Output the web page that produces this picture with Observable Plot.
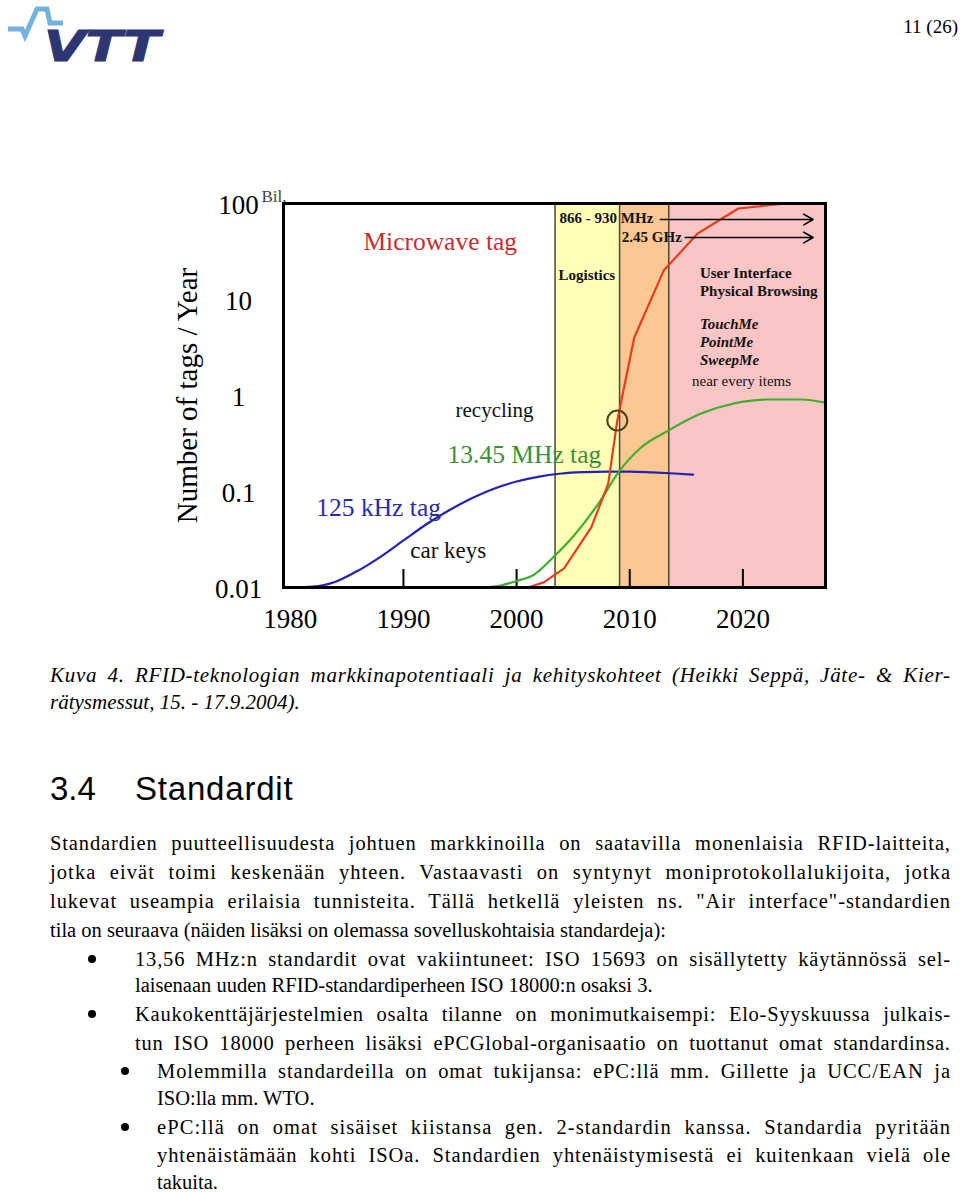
<!DOCTYPE html>
<html><head><meta charset="utf-8">
<script src="https://cdn.jsdelivr.net/npm/d3@7"></script>
<script src="https://cdn.jsdelivr.net/npm/@observablehq/plot@0.6"></script>
<style>
html,body{margin:0;padding:0;background:#fff}
body{width:960px;height:1192px;position:relative;overflow:hidden;font-family:"Liberation Serif","Times New Roman",serif;color:#000}
#logo{position:absolute;left:0;top:0}
#pagenum{position:absolute;right:2px;top:16px;font-size:19px}
#chart{position:absolute;left:170px;top:185px}
.ln{position:absolute;line-height:28px;height:28px;white-space:nowrap}
.cap{font-style:italic;font-size:21px;left:50px;width:900px}
.body{font-size:20.5px}
.p0{left:50px;width:900px}
.p1{left:135px;width:815px}
.p2{left:157px;width:793px}
.dot{position:absolute;width:8px;height:8px;border-radius:50%;background:#000}
#h{position:absolute;left:50px;top:770px;font-family:"Liberation Sans",Arial,sans-serif;font-size:33px;line-height:38px}
#h span{position:absolute;white-space:nowrap}
</style></head>
<body>
<svg id="logo" width="170" height="70">
  <polyline points="8,29 22,29 25,36 37,9 47,9 50,23 63,23" fill="none" stroke="#74b2de" stroke-width="5" stroke-linejoin="miter"/>
  <text x="44" y="61" font-family="DejaVu Sans" font-weight="bold" font-style="italic" font-size="42" fill="#2d3573" textLength="116" lengthAdjust="spacingAndGlyphs" stroke="#2d3573" stroke-width="1">VTT</text>
</svg>
<div id="pagenum">11 (26)</div>
<div id="chart"></div>

<div class="ln cap j" style="top:661px">Kuva 4. RFID-teknologian markkinapotentiaali ja kehityskohteet (Heikki Seppä, Jäte- &amp; Kier-</div>
<div class="ln cap" style="top:688px">rätysmessut, 15. - 17.9.2004).</div>

<div id="h"><span style="left:0">3.4</span><span style="left:85px;letter-spacing:0.8px">Standardit</span></div>

<div class="ln body p0 j" style="top:829px">Standardien puutteellisuudesta johtuen markkinoilla on saatavilla monenlaisia RFID-laitteita,</div>
<div class="ln body p0 j" style="top:858px">jotka eivät toimi keskenään yhteen. Vastaavasti on syntynyt moniprotokollalukijoita, jotka</div>
<div class="ln body p0 j" style="top:887px">lukevat useampia erilaisia tunnisteita. Tällä hetkellä yleisten ns. "Air interface"-standardien</div>
<div class="ln body p0" style="top:916px">tila on seuraava (näiden lisäksi on olemassa sovelluskohtaisia standardeja):</div>

<div class="dot" style="left:88px;top:955px"></div>
<div class="ln body p1 j" style="top:945px">13,56 MHz:n standardit ovat vakiintuneet: ISO 15693 on sisällytetty käytännössä sel-</div>
<div class="ln body p1" style="top:971px">laisenaan uuden RFID-standardiperheen ISO 18000:n osaksi 3.</div>

<div class="dot" style="left:88px;top:1010px"></div>
<div class="ln body p1 j" style="top:1000px">Kaukokenttäjärjestelmien osalta tilanne on monimutkaisempi: Elo-Syyskuussa julkais-</div>
<div class="ln body p1 j" style="top:1029px">tun ISO 18000 perheen lisäksi ePCGlobal-organisaatio on tuottanut omat standardinsa.</div>

<div class="dot" style="left:121px;top:1067px"></div>
<div class="ln body p2 j" style="top:1057px">Molemmilla standardeilla on omat tukijansa: ePC:llä mm. Gillette ja UCC/EAN ja</div>
<div class="ln body p2" style="top:1084px">ISO:lla mm. WTO.</div>

<div class="dot" style="left:121px;top:1123px"></div>
<div class="ln body p2 j" style="top:1113px">ePC:llä on omat sisäiset kiistansa gen. 2-standardin kanssa. Standardia pyritään</div>
<div class="ln body p2 j" style="top:1141px">yhtenäistämään kohti ISOa. Standardien yhtenäistymisestä ei kuitenkaan vielä ole</div>
<div class="ln body p2" style="top:1168px">takuita.</div>

<script>
// ---- data ----
const xTicks = [1980, 1990, 2000, 2010, 2020];
const insideTicks = [1990, 2000, 2010, 2020];
const yTicks = [0.01, 0.1, 1, 10, 100];

const blueYear  = [1980, 1982, 1984, 1986, 1988, 1990, 1992, 1994, 1996, 1998, 2000, 2002, 2004, 2006, 2008, 2010, 2012, 2014, 2015.6];
const blueValue = [0.0100, 0.0102, 0.0115, 0.0150, 0.0210, 0.0309, 0.0453, 0.0634, 0.0845, 0.107, 0.127, 0.143, 0.154, 0.159, 0.161, 0.161, 0.158, 0.154, 0.150];

const greenYear  = [1997, 1998.6, 2000, 2001.5, 2003.3, 2005.0, 2007.4, 2009.0, 2011.0, 2013.4, 2016.3, 2019.2, 2022.2, 2025.2, 2027.2];
const greenValue = [0.0100, 0.0105, 0.0117, 0.0135, 0.0210, 0.0340, 0.0800, 0.158, 0.287, 0.431, 0.649, 0.826, 0.908, 0.908, 0.846];

const redYear  = [2001.0, 2002.4, 2004.2, 2006.6, 2008.1, 2008.9, 2010.4, 2013.0, 2016.0, 2019.6, 2023.8];
const redValue = [0.0100, 0.0113, 0.0158, 0.0422, 0.121, 0.549, 4.02, 20.0, 48.7, 88.7, 100];

const bandName  = ["Logistics", "transition", "User Interface"];
const bandStart = [2003.4, 2009.1, 2013.45];
const bandEnd   = [2009.1, 2013.45, 2027.3];

const circleYear = [2008.9];
const circleValue = [0.549];

const arrowLabel = ["866 - 930 MHz", "2.45 GHz"];
const arrowYear1 = [2012.7, 2014.9];
const arrowYear2 = [2026.2, 2026.2];
const arrowValue = [68.1, 44.2];

const curveLabelText  = ["Microwave tag", "13.45 MHz tag", "125 kHz tag"];
const curveLabelYear  = [1986.46, 1993.9, 1982.3];
const curveLabelValue = [40.2, 0.243, 0.068];

const noteText  = ["recycling", "car keys", "near every items"];
const noteYear  = [1994.6, 1990.6, 2015.5];
const noteValue = [0.698, 0.0243, 1.40];

const boldText  = ["866 - 930 MHz", "2.45 GHz", "Logistics", "User Interface", "Physical Browsing"];
const boldYear  = [2003.8, 2009.3, 2003.7, 2016.2, 2016.2];
const boldValue = [69.8, 44.2, 17.8, 18.7, 12.1];

const italicText  = ["TouchMe", "PointMe", "SweepMe"];
const italicYear  = [2016.2, 2016.2, 2016.2];
const italicValue = [5.49, 3.56, 2.32];

// ---- tables ----
const zip = (xs, ys) => xs.map((x, i) => ({x, y: ys[i]}));
const blue = zip(blueYear, blueValue);
const green = zip(greenYear, greenValue);
const red = zip(redYear, redValue);
const bandColors = ["#ffffb8", "#fbc792", "#f9c5c5"];
const bands = bandName.map((n, i) => ({name: n, x1: bandStart[i], x2: bandEnd[i], fill: bandColors[i]}));
const arrows = arrowLabel.map((n, i) => ({x1: arrowYear1[i], x2: arrowYear2[i], y: arrowValue[i]}));
const curveColors = ["#d22a2a", "#3b8f3b", "#2a2aa8"];
const curveLabels = curveLabelText.map((t, i) => ({t, x: curveLabelYear[i], y: curveLabelValue[i], c: curveColors[i]}));
const notes = noteText.map((t, i) => ({t, x: noteYear[i], y: noteValue[i]}));
const bolds = boldText.map((t, i) => ({t, x: boldYear[i], y: boldValue[i]}));
const italics = italicText.map((t, i) => ({t, x: italicYear[i], y: italicValue[i]}));
const circles = zip(circleYear, circleValue);

const yMin = yTicks[0], yMax = yTicks[yTicks.length - 1];
const serif = "'Liberation Serif','Times New Roman',serif";

const chart = Plot.plot({
  width: 660, height: 450,
  marginLeft: 113, marginRight: 5, marginTop: 18, marginBottom: 48,
  style: {fontFamily: serif, background: "transparent", overflow: "visible"},
  x: {domain: [1979.4, 2027.3]},
  y: {type: "log", domain: [yMin, yMax]},
  color: {type: "identity"},
  marks: [
    Plot.rect(bands, {x1: "x1", x2: "x2", y1: () => yMin, y2: () => yMax, fill: "fill"}),
    Plot.ruleX(bandStart, {stroke: "#4a4a2c", strokeWidth: 1.5}),
    Plot.ruleX(insideTicks, {y1: () => yMin, y2: () => 0.0154, stroke: "#000", strokeWidth: 2}),
    Plot.line(blue, {x: "x", y: "y", stroke: "#2222b4", strokeWidth: 2.2, curve: "monotone-x"}),
    Plot.line(green, {x: "x", y: "y", stroke: "#3fae2c", strokeWidth: 2.2, curve: "monotone-x"}),
    Plot.line(red, {x: "x", y: "y", stroke: "#ea3c1c", strokeWidth: 2.2, curve: "linear"}),
    Plot.dot(circles, {x: "x", y: "y", r: 10, stroke: "#4f4418", strokeWidth: 2, fill: "none"}),
    Plot.arrow(arrows, {x1: "x1", x2: "x2", y1: "y", y2: "y", stroke: "#000", strokeWidth: 1.6, headLength: 10, bend: 0}),
    Plot.text(curveLabels, {x: "x", y: "y", text: "t", fill: "c", fontSize: 25.5, textAnchor: "start"}),
    Plot.text(notes, {x: "x", y: "y", text: "t", fill: "#111", fontSize: (d) => d.t === "near every items" ? 15 : (d.t === "car keys" ? 23 : 21), textAnchor: "start"}),
    Plot.text(bolds, {x: "x", y: "y", text: "t", fill: "#111", fontSize: 15, fontWeight: "bold", textAnchor: "start"}),
    Plot.text(italics, {x: "x", y: "y", text: "t", fill: "#111", fontSize: 15, fontWeight: "bold", fontStyle: "italic", textAnchor: "start"}),
    Plot.frame({stroke: "#000", strokeWidth: 3}),
    Plot.axisX(xTicks, {tickSize: 0, tickPadding: 21, fontSize: 27, tickFormat: (d) => String(d), label: null}),
    Plot.axisY(yTicks, {tickSize: 0, tickPadding: 45, textAnchor: "middle", fontSize: 27, dy: 2, tickFormat: (d) => String(d), label: null}),
    Plot.text(["Number of tags / Year"], {text: (d) => d, frameAnchor: "left", textAnchor: "middle", dx: -96, rotate: -90, fontSize: 29}),
    Plot.text(["Bil."], {text: (d) => d, frameAnchor: "top-left", dx: -22, dy: -14, fontSize: 17, fill: "#444", textAnchor: "start"})
  ]
});
document.getElementById("chart").appendChild(chart);

// ---- justify lines by spreading both letters and words (as in the source PDF) ----
document.querySelectorAll(".j").forEach((el) => {
  const target = el.clientWidth;
  const text = el.textContent;
  const span = document.createElement("span");
  span.textContent = text;
  el.textContent = "";
  el.appendChild(span);
  const natural = span.getBoundingClientRect().width;
  const extra = target - natural;
  const nSpaces = (text.match(/ /g) || []).length;
  if (extra > 0 && nSpaces > 0) {
    span.style.letterSpacing = (extra * 0.6 / (text.length - 1)) + "px";
    span.style.wordSpacing = (extra * 0.4 / nSpaces) + "px";
  }
});
</script>
</body></html>
